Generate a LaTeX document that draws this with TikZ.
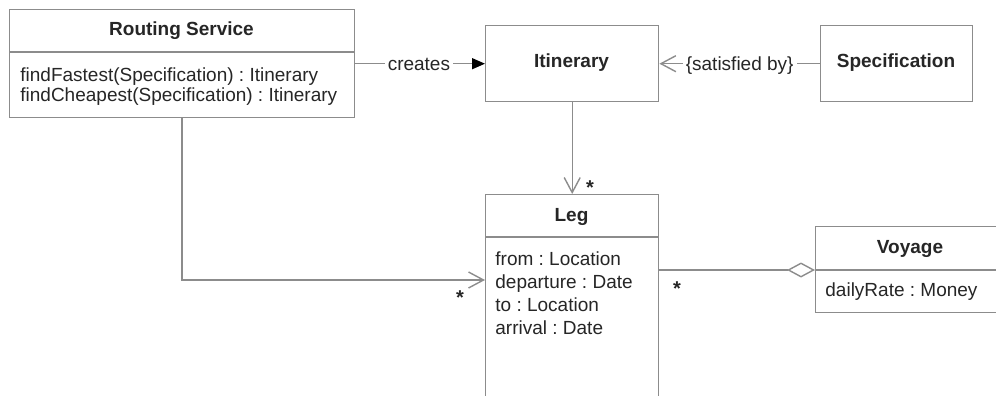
\documentclass[tikz,border=0pt]{standalone}
\usepackage{fontspec}
\setmainfont{Liberation Sans}
\usetikzlibrary{arrows.meta}
\definecolor{linegray}{HTML}{8C8C8C}
\definecolor{txt}{HTML}{262626}
\begin{document}
\frenchspacing
\begin{tikzpicture}[x=0.5pt,y=-0.5pt,
  font=\fontsize{9.5pt}{11pt}\selectfont, text=txt,
  box/.style={draw=linegray, line width=0.7pt, rectangle, inner sep=0pt, anchor=north west},
  conn/.style={draw=linegray, line width=0.7pt},
  title/.style={font=\fontsize{9.5pt}{11pt}\selectfont\bfseries, anchor=base, inner sep=0pt},
  attr/.style={anchor=base west, inner sep=0pt},
  lbl/.style={fill=white, inner sep=1.5pt, anchor=base},
  mult/.style={font=\fontsize{10pt}{11pt}\selectfont\bfseries, anchor=base, inner sep=0pt},
  creates/.style={conn, -{Triangle[length=6.5pt,width=5.5pt,color=black]}},
  navig/.style={conn, -{Straight Barb[length=7.5pt,width=8pt]}},
  aggr/.style={conn, -{Diamond[open,fill=white,length=14pt,width=7.5pt]}}]
\useasboundingbox (0,0) rectangle (996,396);
\clip (0,0) rectangle (996,396);
\fill[white] (0,0) rectangle (996,396);
% boxes
\node[box, minimum width=172.5pt, minimum height=54pt] (rs) at (9,9) {};
\node[box, minimum width=86.5pt, minimum height=38pt] (it) at (485,25) {};
\node[box, minimum width=76pt, minimum height=38pt] (sp) at (820,25) {};
\node[box, minimum width=86.5pt, minimum height=115pt] (leg) at (485,194) {};
\node[box, minimum width=97.5pt, minimum height=43pt] (vo) at (815,226) {};
% dividers
\draw[conn] ([yshift=-21.5pt]rs.north west) -- ([yshift=-21.5pt]rs.north east);
\draw[conn] ([yshift=-21.5pt]leg.north west) -- ([yshift=-21.5pt]leg.north east);
\draw[conn] ([yshift=-22pt]vo.north west) coordinate (vodiv) -- ([yshift=-22pt]vo.north east);
% texts
\node[title] (rst) at (181.5,35) {Routing Service};
\node[attr] (rs1) at (20,81) {findFastest(Specification) : Itinerary};
\node[attr] (rs2) at (20,101) {findCheapest(Specification) : Itinerary};
\node[title] (itt) at (571.5,68) {Itinerary};
\node[title] (spt) at (896,68) {Specification};
\node[title] (legt) at (571.5,221) {Leg};
\node[attr] (l1) at (495,265) {from : Location};
\node[attr] (l2) at (495,288) {departure : Date};
\node[attr] (l3) at (495,311) {to : Location};
\node[attr] (l4) at (495,334) {arrival : Date};
\node[title] (vot) at (910,253) {Voyage};
\node[attr] (vo1) at (825,296) {dailyRate : Money};
% connectors
\draw[creates] (rs.east |- it.west) -- (it.west)
  node[lbl, pos=0.49, yshift=-3.3pt] {creates};
\draw[navig] (sp.west) -- (it.east)
  node[lbl, pos=0.5, yshift=-3.3pt] {\{satisfied by\}};
\draw[navig] (it.south) -- (leg.north);
\coordinate (bend) at (182,280);
\draw[navig] (rs.south -| bend) -- (bend) -- (leg.west |- bend);
\draw[aggr] (leg.east |- vodiv) -- (vodiv);
% multiplicities
\node[mult] (m1) at (590,194) {*};
\node[mult] (m2) at (460,304) {*};
\node[mult] (m3) at (677,295) {*};
\end{tikzpicture}
\end{document}
